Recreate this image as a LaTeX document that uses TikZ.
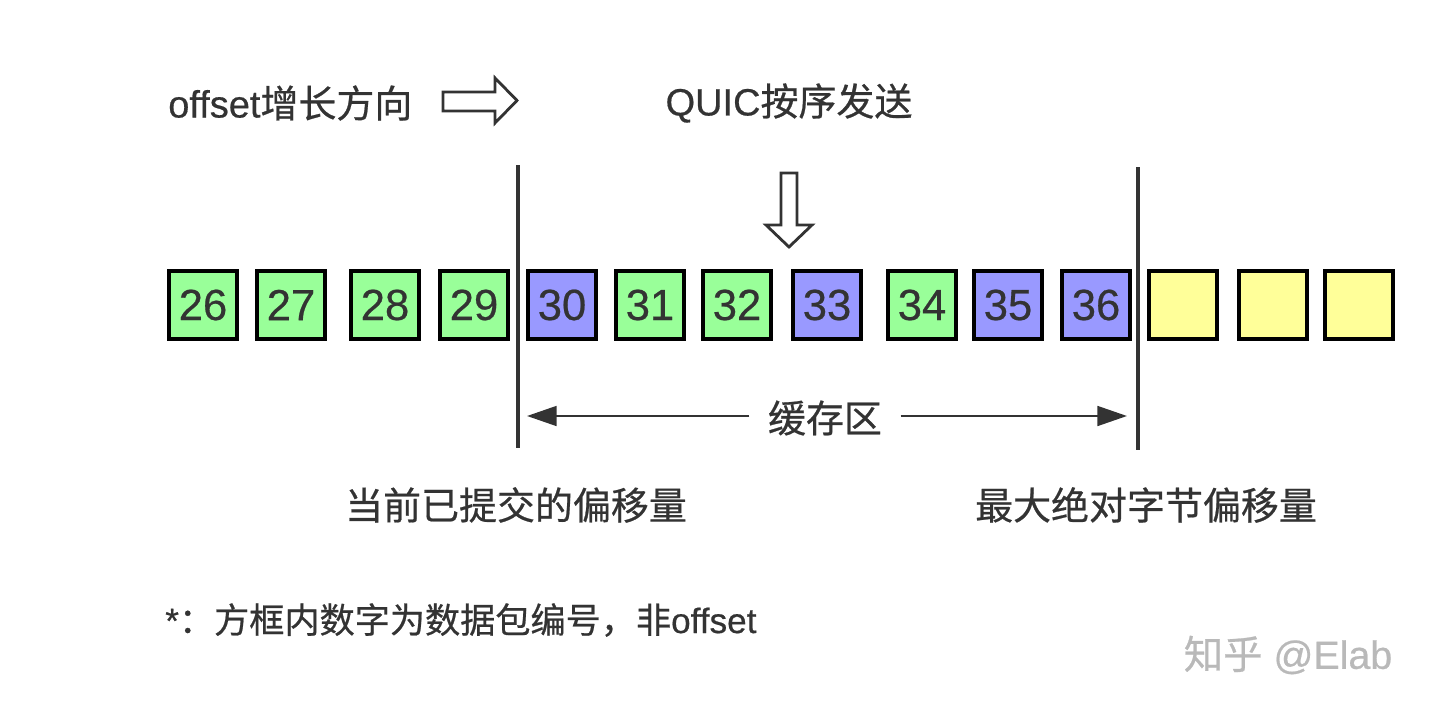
\documentclass[tikz,border=0pt]{standalone}
\usepackage{fontspec}
\setmainfont{Liberation Sans}[FakeBold=0.5]
\newfontfamily\cjk{Noto Sans CJK SC}[FakeBold=0.6]
\usetikzlibrary{arrows.meta}
\definecolor{pktGreen}{HTML}{99FF99}
\definecolor{pktBlue}{HTML}{9999FF}
\definecolor{pktYellow}{HTML}{FFFF99}
\definecolor{txtGray}{HTML}{333333}
\begin{document}
\begin{tikzpicture}[x=0.025cm, y=-0.025cm]
% QUIC stream buffer sketch, coordinates in pixels of the original
\providecommand{\quicBoxSize}{48pt}
\providecommand{\quicBoxLineWidth}{2.6pt}
\providecommand{\quicFenceLineWidth}{2.4pt}
\tikzset{
  pkt/.style={draw=black, line width=\quicBoxLineWidth, minimum size=\quicBoxSize,
    inner sep=0pt, text=txtGray, font=\fontsize{31pt}{35pt}\selectfont},
  label/.style={inner sep=0pt, text=txtGray, font=\fontsize{27pt}{31pt}\selectfont},
  fence/.style={draw=txtGray, line width=\quicFenceLineWidth},
  hollow/.style={draw=txtGray, fill=white, line width=2pt, line join=miter},
  bufarrow/.style={draw=txtGray, line width=1.8pt, -{Triangle[length=21pt, width=14pt]}}
}
\useasboundingbox (0,0) rectangle (1440,716);
% Top labels
\node[label, anchor=west] (dirText) at (168,103) {offset{\cjk 增长方向}};
\node[label] (sendText) at (789,103) {QUIC{\cjk 按序发送}};
% Hollow arrows
\path[hollow] (443,92) -- (495,92) -- (495,78) -- (517,100.5) -- (495,123) -- (495,111) -- (443,111) -- cycle;
\path[hollow] (781,173) -- (797,173) -- (797,225) -- (812,225) -- (789,247) -- (766,225) -- (781,225) -- cycle;
% Packets
\node[pkt, fill=pktGreen] (p26) at (203,305) {26};
\node[pkt, fill=pktGreen] (p27) at (291,305) {27};
\node[pkt, fill=pktGreen] (p28) at (385,305) {28};
\node[pkt, fill=pktGreen] (p29) at (474,305) {29};
\node[pkt, fill=pktBlue] (p30) at (562,305) {30};
\node[pkt, fill=pktGreen] (p31) at (650,305) {31};
\node[pkt, fill=pktGreen] (p32) at (737,305) {32};
\node[pkt, fill=pktBlue] (p33) at (827,305) {33};
\node[pkt, fill=pktGreen] (p34) at (922,305) {34};
\node[pkt, fill=pktBlue] (p35) at (1008,305) {35};
\node[pkt, fill=pktBlue] (p36) at (1096,305) {36};
\node[pkt, fill=pktYellow] (e1) at (1183,305) {};
\node[pkt, fill=pktYellow] (e2) at (1273,305) {};
\node[pkt, fill=pktYellow] (e3) at (1359,305) {};
% Fences
\coordinate (commitTop) at (518,165);
\coordinate (commitBot) at (518,448);
\coordinate (maxTop) at (1138,167);
\coordinate (maxBot) at (1138,450);
\draw[fence] (commitTop) -- (commitBot);
\draw[fence] (maxTop) -- (maxBot);
% Buffer span
\node[label, inner xsep=13pt] (bufText) at (825,418) {\cjk 缓存区};
\coordinate (bufL) at (527,416);
\coordinate (bufR) at (1127,416);
\draw[bufarrow] (bufText.west |- bufL) -- (bufL);
\draw[bufarrow] (bufText.east |- bufR) -- (bufR);
% Bottom labels
\node[label] (commitText) at (516,505) {\cjk 当前已提交的偏移量};
\node[label] (maxText) at (1146,505) {\cjk 最大绝对字节偏移量};
\node[label, anchor=west, font=\fontsize{25pt}{29pt}\selectfont] (noteText) at (165,620) {*{\cjk ：方框内数字为数据包编号，非}offset};
% Watermark
\node[label, text=gray!55, font=\fontsize{28pt}{32pt}\selectfont] (markText) at (1288,655) {{\cjk 知乎} @Elab};
\end{tikzpicture}
\end{document}
